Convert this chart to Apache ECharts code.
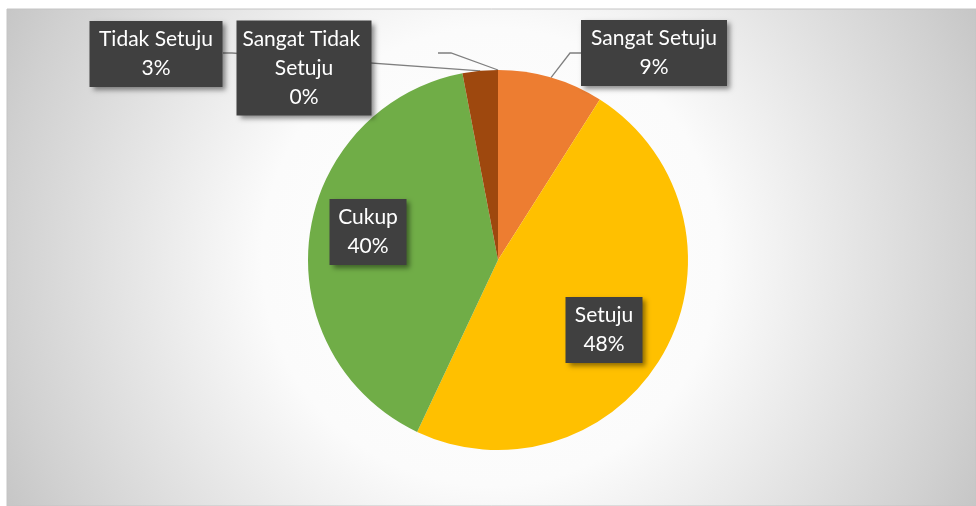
<!DOCTYPE html>
<html><head><meta charset="utf-8">
<script src="https://cdn.jsdelivr.net/npm/echarts@6/dist/echarts.min.js"></script>
<style>html,body{margin:0;padding:0;background:#fff}#c{width:976px;height:506px}</style>
</head><body><div id="c"></div>
<script>
const categories = ['Sangat Setuju', 'Setuju', 'Cukup', 'Tidak Setuju', 'Sangat Tidak Setuju'];
const values = [9, 48, 40, 3, 0];
const colors = ['#ED7D31', '#FFC000', '#70AD47', '#9E480E', '#997300'];

// label box placement (layout only)
const labelBoxes = [
  { cx: 654, cy: 53, w: 146, line: [[570, 53], [581, 53]] },
  { cx: 604, cy: 330, w: 77 },
  { cx: 368, cy: 232, w: 77 },
  { cx: 156, cy: 54, w: 133, line: [[232, 53], [223, 53]] },
  { cx: 304, cy: 68, w: 135, line: [[451, 53], [438, 53]] }
];
const PIE_C = [498, 260], PIE_R = 190;

const chart = echarts.init(document.getElementById('c'), null, { renderer: 'canvas' });

const data = categories.map((n, i) => ({
  name: n,
  value: values[i],
  itemStyle: { color: colors[i] },
  label: { width: labelBoxes[i].w - 8 },
  labelLine: { show: !!labelBoxes[i].line }
}));

function anchorFor(idx) {
  const total = values.reduce((a, b) => a + b, 0);
  let cum = 0;
  for (let k = 0; k < idx; k++) cum += values[k];
  const mid = (cum + values[idx] / 2) / total * Math.PI * 2;
  return [PIE_C[0] + PIE_R * Math.sin(mid), PIE_C[1] - PIE_R * Math.cos(mid)];
}

chart.setOption({
  animation: false,
  graphic: [{
    type: 'rect', z: 0, silent: true,
    shape: { x: 7, y: 9, width: 969, height: 497 },
    style: {
      fill: new echarts.graphic.RadialGradient(491, 257, 545, [
        { offset: 0, color: '#ffffff' },
        { offset: 0.42, color: '#fbfbfb' },
        { offset: 0.9, color: '#d0d0d0' },
        { offset: 1, color: '#c6c6c6' }
      ], true),
      stroke: '#c4c4c4', lineWidth: 1
    }
  }],
  series: [{
    type: 'pie',
    center: PIE_C,
    radius: PIE_R,
    startAngle: 90,
    clockwise: true,
    avoidLabelOverlap: false,
    silent: true,
    minShowLabelAngle: 0,
    itemStyle: { borderWidth: 0 },
    label: {
      show: true,
      position: 'outside',
      formatter: '{b}\n{c}%',
      fontFamily: 'Lato',
      fontSize: 21,
      lineHeight: 29,
      color: '#ffffff',
      backgroundColor: '#404040',
      padding: [4, 4],
      align: 'center',
      overflow: 'break',
      shadowColor: 'rgba(0,0,0,0.45)',
      shadowBlur: 5,
      shadowOffsetX: 3,
      shadowOffsetY: 3
    },
    labelLine: {
      show: true,
      length: 10,
      length2: 10,
      lineStyle: { color: '#7f7f7f', width: 1.3 }
    },
    labelLayout: function (p) {
      const b = labelBoxes[p.dataIndex];
      const res = { x: b.cx, y: b.cy, align: 'center', verticalAlign: 'middle' };
      if (b.line) {
        const a = (p.labelLinePoints && p.labelLinePoints[0]) || anchorFor(p.dataIndex);
        res.labelLinePoints = [a, b.line[0], b.line[1]];
      }
      return res;
    },
    data: data
  }]
});
</script>
</body></html>
